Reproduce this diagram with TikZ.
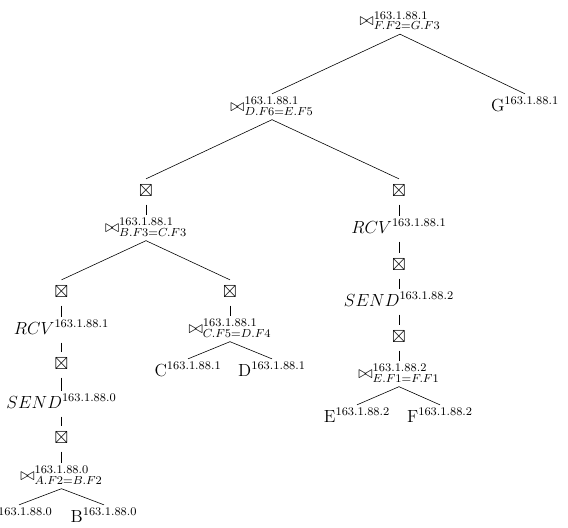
\documentclass[12pt,tikz,border=0pt]{standalone}
\usepackage{amssymb}
\begin{document}
\begin{tikzpicture}[x=0.685pt,y=-0.685pt,
  tn/.style={anchor=base, inner sep=1.4pt},
  edge/.style={draw=black, line width=0.4pt}]
\useasboundingbox (0,0) rectangle (568,527);
% top levels
\node[tn] (r) at (400,25.5) {\strut$\bowtie^{163.1.88.1}_{F.F2=G.F3}$};
\node[tn] (d) at (272,111) {\strut$\bowtie^{163.1.88.1}_{D.F6=E.F5}$};
\node[tn] (g) at (525,111) {\strut G$^{163.1.88.1}$};
\node[tn] (b1) at (146,196) {\strut$\boxtimes$};
\node[tn] (b2) at (399,196) {\strut$\boxtimes$};
% left branch
\node[tn] (jb) at (146,232) {\strut$\bowtie^{163.1.88.1}_{B.F3=C.F3}$};
\node[tn] (b3) at (61.5,297) {\strut$\boxtimes$};
\node[tn] (b4) at (230,297) {\strut$\boxtimes$};
\node[tn] (rcv1) at (61.5,334) {\strut$RCV^{163.1.88.1}$};
\node[tn] (b5) at (61.5,369) {\strut$\boxtimes$};
\node[tn] (send1) at (61.5,408) {\strut$SEND^{163.1.88.0}$};
\node[tn] (b6) at (61.5,443) {\strut$\boxtimes$};
\node[tn] (ja) at (61.5,480) {\strut$\bowtie^{163.1.88.0}_{A.F2=B.F2}$};
\node[tn] (la) at (19,522) {\strut A$^{163.1.88.0}$};
\node[tn] (lb) at (104,522) {\strut B$^{163.1.88.0}$};
\node[tn] (jc) at (230,333) {\strut$\bowtie^{163.1.88.1}_{C.F5=D.F4}$};
\node[tn] (lc) at (188,376) {\strut C$^{163.1.88.1}$};
\node[tn] (ld) at (272,376) {\strut D$^{163.1.88.1}$};
% right branch
\node[tn] (rcv2) at (399,233) {\strut$RCV^{163.1.88.1}$};
\node[tn] (b7) at (399,270) {\strut$\boxtimes$};
\node[tn] (send2) at (399,306) {\strut$SEND^{163.1.88.2}$};
\node[tn] (b8) at (399,342) {\strut$\boxtimes$};
\node[tn] (je) at (399,378) {\strut$\bowtie^{163.1.88.2}_{E.F1=F.F1}$};
\node[tn] (le) at (357,422) {\strut E$^{163.1.88.2}$};
\node[tn] (lf) at (440,422) {\strut F$^{163.1.88.2}$};
% connectors
\foreach \p/\c in {r/d, r/g, d/b1, d/b2, b1/jb, jb/b3, jb/b4, b3/rcv1,
  rcv1/b5, b5/send1, send1/b6, b6/ja, ja/la, ja/lb, b4/jc, jc/lc, jc/ld,
  b2/rcv2, rcv2/b7, b7/send2, send2/b8, b8/je, je/le, je/lf}
  \draw[edge] (\p.south) -- (\c.north);
\end{tikzpicture}
\end{document}
